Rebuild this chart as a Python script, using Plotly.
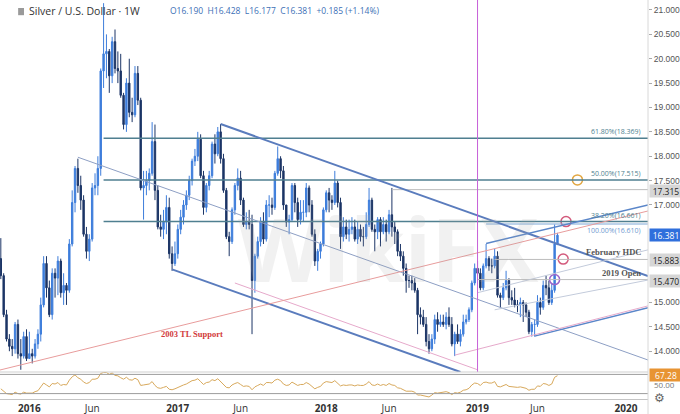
import pandas as pd
import plotly.graph_objects as go

# ── weekly XAG/USD candles, first bar week of 2015-10-26 ─────────────────────
FIRST_WEEK = "2015-10-26"

OPEN = [
    # 2015
    15.90, 15.55, 14.75, 14.25, 14.10, 14.05, 14.55, 13.95, 13.90, 14.30,
    # 2016
    13.85, 13.95, 13.90, 14.15, 14.35, 14.95, 15.80, 15.30, 14.75, 15.60, 15.50, 15.85, 15.20,
    15.35, 15.25, 16.20, 17.05, 17.75, 17.40, 17.10, 16.40, 16.05, 16.30, 17.35, 17.40, 17.75,
    19.75, 20.10, 20.15, 19.65, 20.35, 19.80, 19.75, 19.25, 18.65, 19.50, 18.90, 18.85, 19.70,
    19.15, 17.35, 17.40, 17.50, 17.65, 18.30, 17.30, 16.55, 16.50, 16.65, 16.95, 16.00, 15.80,
    # 2017
    16.00, 16.50, 16.75, 17.00, 17.20, 17.50, 17.90, 18.00, 18.35, 17.60, 16.95, 17.40, 17.60,
    18.25, 18.05, 18.50, 17.95, 17.30, 16.35, 16.25, 16.90, 17.40, 17.55, 17.10, 16.60, 16.65,
    16.60, 15.45, 15.95, 16.25, 16.65, 16.30, 17.00, 17.00, 16.95, 17.65, 17.95, 17.70, 17.00,
    16.65, 16.70, 17.40, 17.05, 16.70, 16.85, 16.85, 17.35, 17.00, 16.40, 15.85, 16.05, 16.20,
    # 2018
    16.90, 17.25, 17.10, 17.05, 17.45, 17.05, 16.35, 16.55, 16.40, 16.50, 16.55, 16.30, 16.50,
    16.35, 16.35, 16.60, 17.10, 16.50, 16.45, 16.70, 16.45, 16.60, 16.45, 16.80, 16.55, 16.45,
    16.05, 15.95, 15.70, 15.45, 15.45, 15.40, 15.25, 14.75, 14.70, 14.55, 14.20, 14.05, 14.25,
    14.65, 14.55, 14.60, 14.55, 14.70, 14.55, 14.15, 14.35, 14.20, 14.35, 14.60, 14.65, 14.85,
    15.40,
    # 2019
    15.70, 15.60, 15.30, 15.75, 15.90, 15.75, 15.75, 15.95, 15.15, 15.10, 15.30, 15.45, 15.10,
    15.05, 14.95, 14.95, 15.00, 14.95, 14.80, 14.40, 14.55, 14.55, 15.00, 14.90, 15.35, 15.30,
    15.00, 15.25, 16.19,
]

HIGH = [
    16.32, 15.60, 14.85, 14.35, 14.25, 14.60, 14.65, 14.25, 14.40, 14.45,
    14.40, 14.05, 14.25, 14.45, 15.10, 15.95, 15.95, 15.45, 15.70, 15.70, 15.95, 15.90, 15.60,
    15.40, 16.30, 17.30, 17.80, 17.95, 17.60, 17.20, 16.55, 16.40, 17.45, 17.65, 18.00, 19.80,
    21.14, 20.50, 20.20, 20.45, 20.60, 20.15, 20.10, 19.30, 19.60, 20.00, 19.20, 19.85, 19.85,
    19.20, 17.70, 17.70, 17.75, 18.70, 18.65, 17.40, 16.80, 16.90, 17.20, 17.15, 16.15, 16.25,
    16.60, 16.90, 17.10, 17.30, 17.60, 17.95, 18.15, 18.50, 18.45, 17.70, 17.45, 17.70, 18.30,
    18.45, 18.60, 18.66, 18.05, 17.35, 16.45, 16.95, 17.45, 17.75, 17.70, 17.15, 16.85, 16.90,
    16.80, 16.00, 16.35, 16.75, 16.85, 17.10, 17.20, 17.15, 17.70, 18.20, 18.00, 17.80, 17.00,
    16.80, 17.45, 17.45, 17.15, 17.10, 17.10, 17.45, 17.40, 17.10, 16.50, 16.10, 16.25, 16.95,
    17.30, 17.35, 17.20, 17.70, 17.50, 17.15, 16.75, 16.70, 16.70, 16.75, 16.70, 16.65, 16.60,
    16.55, 16.85, 17.35, 17.15, 16.60, 16.75, 16.75, 16.75, 16.70, 16.90, 17.35, 16.65, 16.50,
    16.20, 16.05, 15.80, 15.55, 15.55, 15.50, 15.30, 14.90, 14.85, 14.70, 14.35, 14.35, 14.75,
    14.80, 14.75, 14.75, 14.80, 14.90, 14.70, 14.40, 14.55, 14.45, 14.75, 14.75, 14.90, 15.45,
    15.80,
    15.85, 15.70, 15.80, 16.20, 15.95, 15.90, 16.10, 16.05, 15.20, 15.40, 15.65, 15.50, 15.25,
    15.30, 15.05, 15.10, 15.05, 15.00, 14.85, 14.60, 14.65, 15.15, 15.10, 15.45, 15.55, 15.45,
    15.40, 16.60, 16.428,
]

LOW = [
    15.48, 14.70, 14.20, 14.00, 13.90, 13.95, 13.85, 13.62, 13.85, 13.80,
    13.85, 13.75, 13.85, 14.05, 14.20, 14.90, 15.10, 14.70, 14.65, 15.10, 15.15, 15.10, 14.95,
    14.95, 15.20, 16.15, 16.85, 17.25, 16.90, 16.35, 15.90, 15.85, 16.25, 17.20, 17.20, 17.60,
    19.40, 19.60, 19.30, 19.50, 19.70, 19.50, 19.20, 18.55, 18.50, 18.80, 18.70, 18.80, 19.05,
    17.30, 16.70, 17.20, 17.30, 17.60, 17.10, 16.50, 16.35, 16.30, 16.40, 15.90, 15.65, 15.75,
    15.90, 16.40, 16.60, 16.90, 17.10, 17.40, 17.80, 17.90, 17.55, 16.80, 16.85, 17.30, 17.55,
    17.85, 18.00, 17.85, 17.25, 16.30, 15.95, 16.20, 16.80, 17.30, 17.00, 16.55, 16.50, 16.50,
    14.35, 15.20, 15.90, 16.15, 16.20, 16.25, 16.75, 16.80, 16.90, 17.60, 17.55, 16.90, 16.55,
    16.40, 16.65, 16.85, 16.55, 16.60, 16.65, 16.75, 16.85, 16.35, 15.75, 15.65, 15.90, 16.15,
    16.85, 16.85, 16.90, 17.00, 16.95, 16.10, 16.25, 16.30, 16.25, 16.40, 16.25, 16.20, 16.25,
    16.15, 16.30, 16.55, 16.45, 16.05, 16.30, 16.15, 16.40, 16.25, 16.40, 16.35, 16.20, 15.95,
    15.85, 15.55, 15.20, 15.30, 15.25, 15.20, 14.35, 14.55, 14.50, 14.10, 13.95, 14.00, 14.15,
    14.40, 14.50, 14.50, 14.45, 14.50, 14.10, 13.90, 14.15, 14.10, 14.30, 14.55, 14.60, 14.80,
    15.35,
    15.55, 15.25, 15.25, 15.70, 15.65, 15.60, 15.70, 15.10, 14.90, 15.05, 15.25, 14.95, 14.95,
    14.90, 14.80, 14.70, 14.60, 14.70, 14.35, 14.30, 14.30, 14.50, 14.75, 14.85, 15.15, 14.95,
    14.95, 15.20, 16.177,
]

CLOSE = [
    15.55, 14.75, 14.25, 14.10, 14.05, 14.55, 13.95, 13.90, 14.30, 13.85,
    13.95, 13.90, 14.15, 14.35, 14.95, 15.80, 15.30, 14.75, 15.60, 15.50, 15.85, 15.20, 15.35,
    15.25, 16.20, 17.05, 17.75, 17.40, 17.10, 16.40, 16.05, 16.30, 17.35, 17.40, 17.75, 19.75,
    20.10, 20.15, 19.65, 20.35, 19.80, 19.75, 19.25, 18.65, 19.50, 18.90, 18.85, 19.70, 19.15,
    17.35, 17.40, 17.50, 17.65, 18.30, 17.30, 16.55, 16.50, 16.65, 16.95, 16.00, 15.80, 16.00,
    16.50, 16.75, 17.00, 17.20, 17.50, 17.90, 18.00, 18.35, 17.60, 16.95, 17.40, 17.60, 18.25,
    18.05, 18.50, 17.95, 17.30, 16.35, 16.25, 16.90, 17.40, 17.55, 17.10, 16.60, 16.65, 16.60,
    15.45, 15.95, 16.25, 16.65, 16.30, 17.00, 17.00, 16.95, 17.65, 17.95, 17.70, 17.00, 16.65,
    16.70, 17.40, 17.05, 16.70, 16.85, 16.85, 17.35, 17.00, 16.40, 15.85, 16.05, 16.20, 16.90,
    17.25, 17.10, 17.05, 17.45, 17.05, 16.35, 16.55, 16.40, 16.50, 16.55, 16.30, 16.50, 16.35,
    16.35, 16.60, 17.10, 16.50, 16.45, 16.70, 16.45, 16.60, 16.45, 16.80, 16.55, 16.45, 16.05,
    15.95, 15.70, 15.45, 15.45, 15.40, 15.25, 14.75, 14.70, 14.55, 14.20, 14.05, 14.25, 14.65,
    14.55, 14.60, 14.55, 14.70, 14.55, 14.15, 14.35, 14.20, 14.35, 14.60, 14.65, 14.85, 15.40,
    15.70,
    15.60, 15.30, 15.75, 15.90, 15.75, 15.75, 15.95, 15.15, 15.10, 15.30, 15.45, 15.10, 15.05,
    14.95, 14.95, 15.00, 14.95, 14.80, 14.40, 14.55, 14.55, 15.00, 14.90, 15.35, 15.30, 15.00,
    15.25, 16.20, 16.381,
]

RSI = [
    40, 34, 30, 29, 28, 33, 30, 29, 33, 31,
    31, 31, 34, 36, 44, 52, 48, 44, 51, 50, 53, 47, 49, 48, 58, 65, 69, 63, 60, 54, 51, 53,
    60, 60, 62, 72, 74, 74, 70, 73, 68, 67, 63, 60, 64, 59, 58, 62, 59, 47, 48, 49, 50, 55,
    47, 42, 41, 43, 45, 39, 38, 40,
    43, 46, 48, 50, 53, 57, 58, 61, 55, 49, 53, 54, 59, 57, 61, 55, 50, 43, 42, 48, 51, 53,
    49, 45, 46, 45, 38, 44, 47, 50, 47, 53, 53, 52, 58, 60, 57, 50, 47, 48, 54, 50, 47, 49,
    49, 53, 50, 45, 40, 43, 45, 52,
    55, 54, 53, 57, 52, 46, 48, 47, 48, 48, 46, 48, 47, 47, 50, 55, 48, 47, 50, 47, 49, 47,
    51, 48, 47, 42, 41, 38, 35, 35, 35, 33, 27, 27, 26, 24, 23, 27, 32, 31, 32, 32, 34, 32,
    28, 32, 31, 33, 37, 38, 41, 48, 52,
    51, 47, 53, 54, 52, 52, 55, 45, 44, 47, 49, 45, 44, 43, 43, 44, 43, 41, 37, 39, 39, 46,
    45, 51, 50, 47, 50, 64, 67.28,
]

assert len(OPEN) == len(HIGH) == len(LOW) == len(CLOSE) == len(RSI)

X_START, X_END = "2015-10-24", "2020-02-29"
PRICE_RANGE = [13.574, 21.205]
RSI_RANGE = [18.75, 75]
# 15.5 / 16.0 / 16.5 sit behind the price tags on the axis, so they are not labelled
PRICE_TICKS = [14.0, 14.5, 15.0, 17.0, 17.5, 18.0, 18.5, 19.0, 19.5, 20.0, 20.5, 21.0]

TICK_DATES = ["2016-01-04", "2016-06-06", "2017-01-02", "2017-06-05", "2018-01-01",
              "2018-06-04", "2019-01-07", "2019-06-03", "2020-01-06"]
TICK_TEXT = ["<b>2016</b>", "Jun", "<b>2017</b>", "Jun", "<b>2018</b>", "Jun",
             "<b>2019</b>", "Jun", "<b>2020</b>"]

# drawings on the chart
FIB_START = "2016-07-04"
FIB_LEVELS = [("61.80%(18.369)", 18.369), ("50.00%(17.515)", 17.515), ("38.20%(16.661)", 16.661)]
EXT_LEVEL = ("100.00%(16.610)", 16.610, "2019-01-28")
KEY_LEVELS = [  # label, price, start
    ("17.315", 17.315, "2018-06-11"),
    ("February HDC", 15.883, "2019-02-18"),
    ("2019 Open", 15.470, "2019-01-07"),
]
LAST_PRICE = 16.381
YEAR_LINE = "2019-01-07"

# (start, p0, end, p1, colour, width)
TRENDLINES = [
    ("2017-04-17", 18.66, X_END, 15.54, "#5a7cbd", 2),
    ("2016-12-19", 15.68, "2018-11-26", 13.574, "#5a7cbd", 2),
    ("2016-05-02", 17.98, X_END, 13.82, "#8d9fc4", 1),
    ("2017-05-22", 15.40, "2019-01-07", 13.62, "#e6a9cb", 1),
    (X_START, 13.615, X_END, 16.877, "#e89c9c", 1),
    ("2019-01-28", 16.21, X_END, 17.00, "#5a86c9", 1.5),
    ("2019-05-27", 14.31, X_END, 14.89, "#5a86c9", 1.5),
    ("2018-11-12", 13.92, X_END, 14.93, "#e6a9cb", 1),
    ("2019-01-07", 15.20, X_END, 16.08, "#c3cbdb", 1),
    ("2019-02-18", 14.85, X_END, 15.46, "#c3cbdb", 1),
]

CIRCLES = [  # date, price, colour
    ("2019-09-09", 17.515, "#e2a640"),
    ("2019-08-12", 16.66, "#d35a7c"),
    ("2019-08-05", 15.89, "#d35a7c"),
    ("2019-07-15", 15.47, "#9b63c9"),
]

UP_COLOR = "#3d7ddb"
DOWN_COLOR = "#1c3566"
FIB_COLOR = "#4f7f90"


dates = pd.date_range(FIRST_WEEK, periods=len(CLOSE), freq="7D")

fig = go.Figure()

fig.add_trace(go.Candlestick(
    x=dates, open=OPEN, high=HIGH, low=LOW, close=CLOSE,
    increasing=dict(line=dict(color=UP_COLOR, width=1), fillcolor=UP_COLOR),
    decreasing=dict(line=dict(color=DOWN_COLOR, width=1), fillcolor=DOWN_COLOR),
    whiskerwidth=0, hoverinfo="skip",
    xaxis="x", yaxis="y",
))

fig.add_trace(go.Scatter(
    x=dates, y=RSI, mode="lines",
    line=dict(color="#d8a95c", width=1),
    hoverinfo="skip", xaxis="x", yaxis="y2",
))

fig.add_trace(go.Scatter(
    x=[c[0] for c in CIRCLES], y=[c[1] for c in CIRCLES], mode="markers",
    marker=dict(symbol="circle-open", size=10,
                color=[c[2] for c in CIRCLES],
                line=dict(width=1.5, color=[c[2] for c in CIRCLES])),
    hoverinfo="skip", xaxis="x", yaxis="y",
))

shapes = []


def hline(x0, price, color, width=1, yref="y"):
    return dict(type="line", xref="x", yref=yref, x0=x0, x1=X_END, y0=price, y1=price,
                line=dict(color=color, width=width))


for _, p in FIB_LEVELS:
    shapes.append(hline(FIB_START, p, FIB_COLOR, 1.5))
shapes.append(hline(EXT_LEVEL[2], EXT_LEVEL[1], "#7da7d6", 1))
for _, p, start in KEY_LEVELS:
    shapes.append(hline(start, p, "#bdbdbd", 1))

for d0, p0, d1, p1, color, width in TRENDLINES:
    shapes.append(dict(type="line", xref="x", yref="y", x0=d0, y0=p0, x1=d1, y1=p1,
                       line=dict(color=color, width=width)))

# start-of-year marker
shapes.append(dict(type="line", xref="x", yref="y", x0=YEAR_LINE, x1=YEAR_LINE,
                   y0=PRICE_RANGE[0], y1=PRICE_RANGE[1], line=dict(color="#c761d8", width=1)))

# RSI bands and pane frame
for lvl in (70, 30):
    shapes.append(dict(type="line", xref="paper", yref="y2", x0=0, x1=1, y0=lvl, y1=lvl,
                       line=dict(color="#9c9c9c", width=1)))
shapes.append(dict(type="line", xref="paper", yref="paper", x0=0, x1=1, y0=0.07, y1=0.07,
                   line=dict(color="#cfcfcf", width=1)))
shapes.append(dict(type="line", xref="paper", yref="paper", x0=1, x1=1, y0=-0.035, y1=1,
                   line=dict(color="#d8d8d8", width=1)))
# legend icon next to the title
shapes.append(dict(type="rect", xref="paper", yref="paper", x0=0.028, x1=0.037, y0=0.962,
                   y1=0.98, fillcolor="#9a9a9a", line=dict(width=0)))

ann = []
ann.append(dict(text="Silver / U.S. Dollar · 1W", xref="paper", yref="paper", x=0.042, y=0.9725,
                xanchor="left", yanchor="middle", showarrow=False,
                font=dict(size=10.5, color="#333")))
ann.append(dict(text="O16.190  H16.428  L16.177  C16.381  +0.185 (+1.14%)", xref="paper",
                yref="paper", x=0.259, y=0.9725, xanchor="left", yanchor="middle",
                showarrow=False, font=dict(size=8.5, color="#3c6fb6")))

ann.append(dict(text="<b>WikiFX</b>", xref="paper", yref="paper", x=0.6, y=0.38,
                showarrow=False, font=dict(size=88, color="rgba(170,170,170,0.16)")))

for label, p in FIB_LEVELS:
    ann.append(dict(text=label, xref="paper", yref="y", x=0.992, y=p, xanchor="right",
                    yanchor="bottom", showarrow=False, font=dict(size=7, color=FIB_COLOR)))
ann.append(dict(text=EXT_LEVEL[0], xref="paper", yref="y", x=0.992, y=EXT_LEVEL[1],
                xanchor="right", yanchor="top", showarrow=False,
                font=dict(size=7, color="#6f9ad0")))

for label, p, _ in KEY_LEVELS[1:]:
    ann.append(dict(text=f"<b>{label}</b>", xref="paper", yref="y", x=0.992, y=p,
                    xanchor="right", yanchor="bottom", showarrow=False,
                    font=dict(size=8.5, color="#555", family="Liberation Serif, serif")))

ann.append(dict(text="<b>2003 TL Support</b>", xref="x", yref="y", x="2017-02-06", y=14.36,
                showarrow=False,
                font=dict(size=8.5, color="#d23b3b", family="Liberation Serif, serif")))

# right-hand price tags
for label, p, _ in KEY_LEVELS:
    ann.append(dict(text=f"{p:.3f}", xref="paper", yref="y", x=1, y=p, xanchor="left",
                    yanchor="middle", xshift=1, yshift=-1, showarrow=False, bgcolor="#d6d6d6",
                    width=30, height=10, font=dict(size=8.5, color="#222")))
ann.append(dict(text=f"{LAST_PRICE:.3f}", xref="paper", yref="y", x=1, y=LAST_PRICE,
                xanchor="left", yanchor="middle", xshift=1, showarrow=False, bgcolor="#2f6fdc",
                width=30, height=10, font=dict(size=8.5, color="white")))
ann.append(dict(text="50.00", xref="paper", yref="y2", x=1, y=48, xanchor="left",
                yanchor="middle", xshift=4, showarrow=False, font=dict(size=8, color="#777")))
ann.append(dict(text=f"{RSI[-1]:.2f}", xref="paper", yref="y2", x=1, y=RSI[-1] + 1,
                xanchor="left", yanchor="middle", xshift=1, showarrow=False, bgcolor="#e89433",
                width=30, height=10, font=dict(size=8.5, color="white")))
ann.append(dict(text="⚙", xref="paper", yref="paper", x=1.029, y=-0.02, showarrow=False,
                font=dict(size=12, color="#666")))

fig.update_layout(
    width=680, height=414,
    margin=dict(l=0, r=32, t=0, b=14),
    paper_bgcolor="white", plot_bgcolor="white",
    showlegend=False,
    font=dict(family="Open Sans, Arial, sans-serif", size=10, color="#444"),
    shapes=shapes,
    annotations=ann,
    xaxis=dict(
        type="date", range=[X_START, X_END], domain=[0, 1], anchor="y2",
        rangeslider=dict(visible=False), showgrid=False, zeroline=False,
        tickvals=TICK_DATES, ticktext=TICK_TEXT, ticks="",
        tickfont=dict(size=10, color="#333"),
        showline=True, linecolor="#c4c4c4",
    ),
    yaxis=dict(
        domain=[0.07, 1], range=PRICE_RANGE, side="right", anchor="x",
        tickvals=PRICE_TICKS, ticktext=[f"{t:.3f}" for t in PRICE_TICKS],
        ticks="outside", ticklen=3, tickcolor="#aaaaaa",
        tickfont=dict(size=8.5, color="#555", family="Liberation Sans, Arial, sans-serif"),
        showgrid=False, zeroline=False,
    ),
    yaxis2=dict(
        domain=[0.0025, 0.07], range=RSI_RANGE, anchor="x",
        showticklabels=False, showgrid=False, zeroline=False,
    ),
)

# page body has a default 8px margin; drop it so the 680x414 figure fills the window
fig.write_html("out.html", config={"displayModeBar": False},
               post_script="document.body.style.margin='0';")
